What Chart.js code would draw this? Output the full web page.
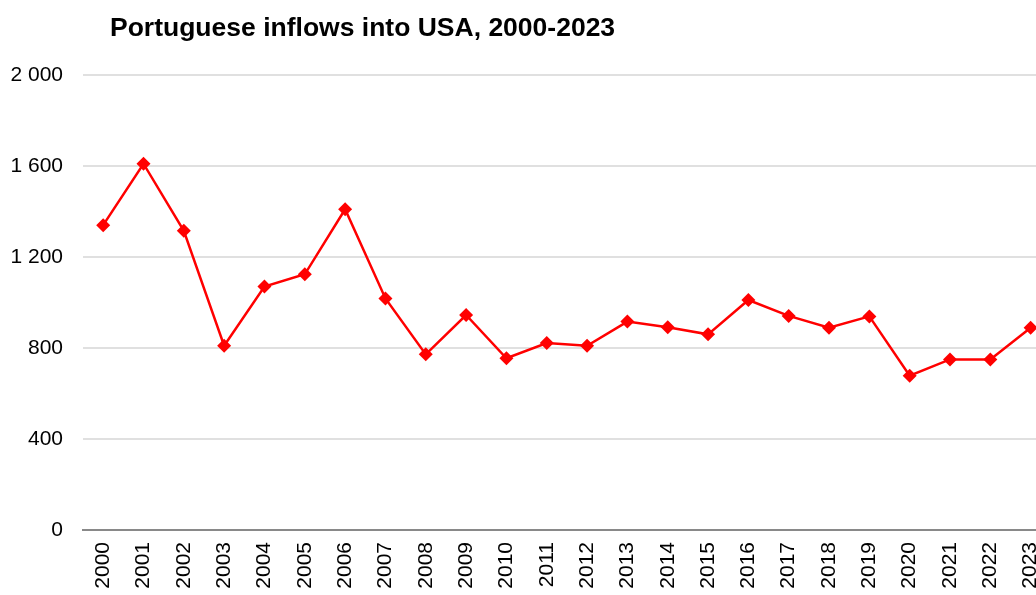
<!DOCTYPE html>
<html>
<head>
<meta charset="utf-8">
<script src="https://cdn.jsdelivr.net/npm/chart.js@4.4.1/dist/chart.umd.min.js"></script>
<style>
  html, body { margin: 0; padding: 0; background: #ffffff; overflow: hidden; }
  #wrap { position: relative; width: 1068px; height: 595px; }
</style>
</head>
<body>
<div id="wrap"><canvas id="c"></canvas></div>
<script>
const titleText = "Portuguese inflows into USA, 2000-2023";
const years = ["2000","2001","2002","2003","2004","2005","2006","2007","2008","2009","2010","2011",
               "2012","2013","2014","2015","2016","2017","2018","2019","2020","2021","2022","2023"];
const inflows = [1340, 1610, 1315, 810, 1070, 1124, 1410, 1018, 772, 945, 755, 822,
                 810, 916, 891, 860, 1011, 941, 889, 939, 678, 750, 750, 889];
const yMin = 0, yMax = 2000, yStep = 400;

const fontFamily = "'Liberation Sans', Arial, sans-serif";

const titlePlugin = {
  id: 'leftTitle',
  afterDraw(chart) {
    const ctx = chart.ctx;
    ctx.save();
    ctx.font = "bold 26.5px " + fontFamily;
    ctx.fillStyle = "#000000";
    ctx.textBaseline = "alphabetic";
    ctx.textAlign = "left";
    ctx.fillText(titleText, 110, 36);
    ctx.restore();
  }
};

new Chart(document.getElementById('c'), {
  type: 'line',
  data: {
    labels: years,
    datasets: [{
      data: inflows,
      borderColor: '#ff0000',
      backgroundColor: '#ff0000',
      borderWidth: 2.5,
      pointStyle: 'rectRot',
      pointRadius: 7,
      pointHoverRadius: 7,
      pointBorderWidth: 0,
      tension: 0,
      fill: false
    }]
  },
  options: {
    responsive: true,
    maintainAspectRatio: false,
    animation: false,
    devicePixelRatio: 1,
    layout: { padding: { top: 75, left: 0, right: 6, bottom: 0 } },
    plugins: {
      legend: { display: false },
      title: { display: false },
      tooltip: { enabled: false }
    },
    scales: {
      x: {
        offset: true,
        grid: { display: false, drawTicks: false },
        border: { display: true, color: '#898989', width: 2 },
        afterFit: (scale) => { scale.height = 65; },
        ticks: {
          color: '#000000',
          font: { family: fontFamily, size: 21 },
          minRotation: 90,
          maxRotation: 90,
          padding: 12,
          autoSkip: false
        }
      },
      y: {
        min: yMin,
        max: yMax,
        grid: { color: '#e0e0e0', lineWidth: 2, drawTicks: false },
        border: { display: false },
        afterFit: (scale) => { scale.width = 83; },
        ticks: {
          stepSize: yStep,
          color: '#000000',
          font: { family: fontFamily, size: 21 },
          padding: 20,
          callback: (v) => String(v).replace(/\B(?=(\d{3})+(?!\d))/g, ' ')
        }
      }
    }
  },
  plugins: [titlePlugin]
});
</script>
</body>
</html>
